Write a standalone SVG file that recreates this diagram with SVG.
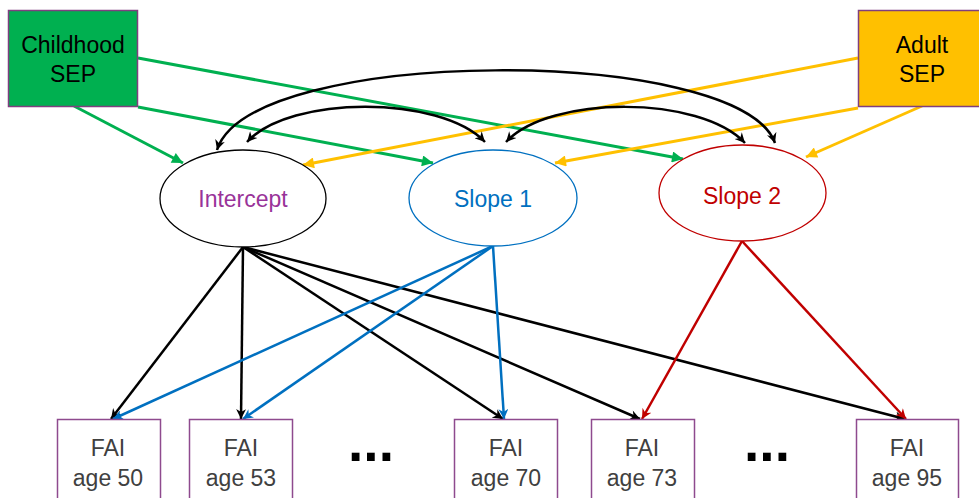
<svg xmlns="http://www.w3.org/2000/svg" width="979" height="498" viewBox="0 0 979 498">
  <style>
    text { font-family: "Liberation Sans", Arial, sans-serif; font-size: 23px; text-anchor: middle; }
    .box { stroke: #7f3f7f; stroke-width: 1.5; }
    .obs { fill: #ffffff; stroke: #8e4a8e; stroke-width: 1.5; }
    .obstext { fill: #404040; stroke: none; }
    .lat { fill: #ffffff; stroke-width: 1.3; }
    .edge { fill: none; stroke-width: 2.5; }
    .g { stroke: #00b050; stroke-width: 3; }
    .o { stroke: #ffc000; stroke-width: 3; }
    .k { stroke: #000000; }
    .b { stroke: #0070c0; }
    .r { stroke: #c00000; }
    .dots { font-size: 55px; font-weight: bold; fill: #000000; }
  </style>
  <defs>
    <marker id="ah-g" viewBox="0 0 10 10" refX="10" refY="5" markerWidth="13" markerHeight="11" markerUnits="userSpaceOnUse" orient="auto"><path d="M0,0 L10,5 L0,10 z" fill="#00b050"/></marker>
    <marker id="ah-o" viewBox="0 0 10 10" refX="10" refY="5" markerWidth="13" markerHeight="11" markerUnits="userSpaceOnUse" orient="auto"><path d="M0,0 L10,5 L0,10 z" fill="#ffc000"/></marker>
    <marker id="ah-k" viewBox="0 0 10 10" refX="10" refY="5" markerWidth="11" markerHeight="10" markerUnits="userSpaceOnUse" orient="auto-start-reverse"><path d="M0,0 L10,5 L0,10 L3,5 z" fill="#000000"/></marker>
    <marker id="ah-b" viewBox="0 0 10 10" refX="10" refY="5" markerWidth="11" markerHeight="10" markerUnits="userSpaceOnUse" orient="auto"><path d="M0,0 L10,5 L0,10 L3,5 z" fill="#0070c0"/></marker>
    <marker id="ah-r" viewBox="0 0 10 10" refX="10" refY="5" markerWidth="11" markerHeight="10" markerUnits="userSpaceOnUse" orient="auto"><path d="M0,0 L10,5 L0,10 L3,5 z" fill="#c00000"/></marker>
  </defs>

  <rect width="979" height="498" fill="#ffffff"/>

  <!-- connectors -->
  <g id="connectors">
    <!-- childhood SEP paths -->
    <line class="edge g" x1="74" y1="106" x2="183" y2="163" marker-end="url(#ah-g)"/>
    <line class="edge g" x1="138" y1="107" x2="433" y2="163" marker-end="url(#ah-g)"/>
    <line class="edge g" x1="138" y1="58" x2="683" y2="159" marker-end="url(#ah-g)"/>
    <!-- adult SEP paths -->
    <line class="edge o" x1="858" y1="58" x2="303" y2="165" marker-end="url(#ah-o)"/>
    <line class="edge o" x1="858" y1="108" x2="555" y2="163" marker-end="url(#ah-o)"/>
    <line class="edge o" x1="922" y1="106" x2="806" y2="157" marker-end="url(#ah-o)"/>
    <!-- covariances between growth factors -->
    <path class="edge k" d="M217,150 C250,45 740,45 775,143" marker-start="url(#ah-k)" marker-end="url(#ah-k)"/>
    <path class="edge k" d="M247,142 C290,95 440,95 485,142" marker-start="url(#ah-k)" marker-end="url(#ah-k)"/>
    <path class="edge k" d="M506,142 C550,95 700,95 745,143" marker-start="url(#ah-k)" marker-end="url(#ah-k)"/>
    <!-- intercept loadings -->
    <line class="edge k" x1="243" y1="247" x2="111" y2="419" marker-end="url(#ah-k)"/>
    <line class="edge k" x1="243" y1="247" x2="241" y2="419" marker-end="url(#ah-k)"/>
    <line class="edge k" x1="243" y1="247" x2="503" y2="419" marker-end="url(#ah-k)"/>
    <line class="edge k" x1="243" y1="247" x2="640" y2="419" marker-end="url(#ah-k)"/>
    <line class="edge k" x1="243" y1="247" x2="905" y2="419" marker-end="url(#ah-k)"/>
    <!-- slope 1 loadings -->
    <line class="edge b" x1="493" y1="246" x2="113" y2="419" marker-end="url(#ah-b)"/>
    <line class="edge b" x1="493" y1="246" x2="243" y2="419" marker-end="url(#ah-b)"/>
    <line class="edge b" x1="493" y1="246" x2="504" y2="419" marker-end="url(#ah-b)"/>
    <!-- slope 2 loadings -->
    <line class="edge r" x1="742" y1="241" x2="642" y2="419" marker-end="url(#ah-r)"/>
    <line class="edge r" x1="742" y1="241" x2="906" y2="419" marker-end="url(#ah-r)"/>
  </g>

  <!-- exogenous predictors -->
  <g id="childhood-sep">
    <rect class="box" x="8.5" y="10.5" width="129" height="96" fill="#00b050"/>
    <text x="73" y="53">Childhood</text>
    <text x="73" y="82">SEP</text>
  </g>
  <g id="adult-sep">
    <rect class="box" x="858.5" y="10.5" width="130" height="96" fill="#ffc000"/>
    <text x="922" y="53">Adult</text>
    <text x="922" y="82">SEP</text>
  </g>

  <!-- growth factors -->
  <g id="intercept">
    <ellipse class="lat" cx="243" cy="198.5" rx="83" ry="48.5" stroke="#000000"/>
    <text x="243" y="207" fill="#993399">Intercept</text>
  </g>
  <g id="slope1">
    <ellipse class="lat" cx="493" cy="198" rx="84" ry="48" stroke="#0070c0"/>
    <text x="493" y="207" fill="#0070c0">Slope 1</text>
  </g>
  <g id="slope2">
    <ellipse class="lat" cx="742.5" cy="193" rx="83.5" ry="48" stroke="#c00000"/>
    <text x="742" y="204" fill="#c00000">Slope 2</text>
  </g>

  <!-- repeated measures -->
  <g id="fai50" class="obs">
    <rect x="57.5" y="419.5" width="103" height="100"/>
    <text x="108" y="456" class="obstext">FAI</text>
    <text x="108" y="486" class="obstext">age 50</text>
  </g>
  <g id="fai53" class="obs">
    <rect x="189.5" y="419.5" width="103" height="100"/>
    <text x="241" y="456" class="obstext">FAI</text>
    <text x="241" y="486" class="obstext">age 53</text>
  </g>
  <g id="fai70" class="obs">
    <rect x="454.5" y="419.5" width="103" height="100"/>
    <text x="506" y="456" class="obstext">FAI</text>
    <text x="506" y="486" class="obstext">age 70</text>
  </g>
  <g id="fai73" class="obs">
    <rect x="591.5" y="419.5" width="103" height="100"/>
    <text x="642" y="456" class="obstext">FAI</text>
    <text x="642" y="486" class="obstext">age 73</text>
  </g>
  <g id="fai95" class="obs">
    <rect x="856.5" y="419.5" width="102" height="100"/>
    <text x="907" y="456" class="obstext">FAI</text>
    <text x="907" y="486" class="obstext">age 95</text>
  </g>

  <!-- ellipses between measures -->
  <text class="dots" x="371" y="461">...</text>
  <text class="dots" x="767" y="461">...</text>
</svg>
